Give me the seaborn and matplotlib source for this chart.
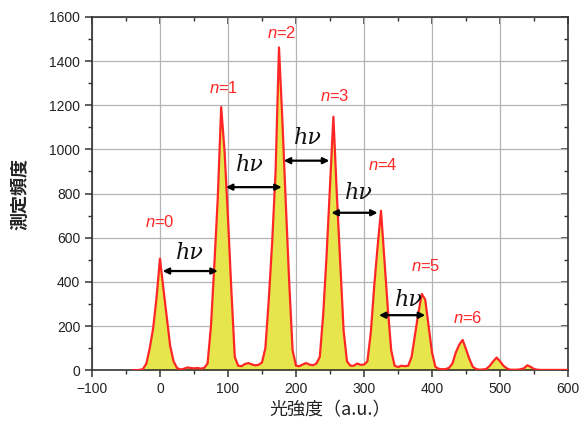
import numpy as np
import pandas as pd
import seaborn as sns
import matplotlib
matplotlib.use("Agg")
import matplotlib.pyplot as plt
from matplotlib.ticker import MultipleLocator

# ---- data ----
x_start, x_stop, x_step = -40, 600, 5
counts = [
    0, 0, 1, 5, 30, 100, 190, 330, 505, 370, 240, 110, 40, 10, 3, 6, 12, 10, 8, 10,
    7, 10, 30, 200, 480, 780, 1192, 990, 690, 360, 60, 20, 18, 28, 32, 26, 22, 24, 35, 100,
    320, 580, 900, 1462, 1130, 757, 400, 90, 20, 18, 26, 32, 25, 22, 30, 60, 250, 520, 830, 1148,
    800, 490, 180, 40, 20, 20, 30, 24, 25, 40, 170, 380, 560, 722, 500, 280, 90, 20, 14, 20,
    18, 20, 60, 160, 260, 345, 320, 200, 80, 15, 6, 4, 5, 10, 30, 80, 115, 137, 95, 50,
    15, 5, 2, 3, 6, 20, 40, 57, 40, 20, 8, 2, 2, 2, 4, 8, 22, 15, 5, 2,
    1, 1, 1, 1, 1, 1, 1, 1, 1,
]
intensity = np.arange(x_start, x_stop + 1, x_step)
assert len(intensity) == len(counts), (len(intensity), len(counts))

n_labels = ["0", "1", "2", "3", "4", "5", "6"]
n_label_x = [0, 93, 179, 257, 328, 391, 452]
n_label_y = [671, 1278, 1528, 1243, 929, 473, 235]

arrow_x0 = [4, 97, 182, 252, 322]
arrow_x1 = [85, 179, 249, 320, 390]
arrow_y = [449, 829, 949, 713, 249]
hv_x = [44, 132, 217, 293, 366]
hv_y = [530, 929, 1050, 802, 317]

df = pd.DataFrame({"intensity": intensity, "count": counts})

# ---- style ----
sns.set_style("white")
plt.rcParams["font.family"] = ["Liberation Sans", "DejaVu Sans"]
plt.rcParams["mathtext.fontset"] = "custom"
plt.rcParams["mathtext.rm"] = "Liberation Sans"
plt.rcParams["mathtext.it"] = "Liberation Sans:italic"

fig = plt.figure(figsize=(5.82, 4.24), dpi=100)
ax = fig.add_axes([0.158, 0.127, 0.818, 0.833])

fill_color = "#e6e64c"
line_color = "#ff2626"
ax.fill_between(df["intensity"], df["count"], 0, color=fill_color, linewidth=0, zorder=2)
sns.lineplot(data=df, x="intensity", y="count", ax=ax, color=line_color, linewidth=1.6, zorder=3)

ax.set_xlim(-100, 600)
ax.set_ylim(0, 1600)
ax.xaxis.set_major_locator(MultipleLocator(100))
ax.xaxis.set_minor_locator(MultipleLocator(50))
ax.yaxis.set_major_locator(MultipleLocator(200))
ax.yaxis.set_minor_locator(MultipleLocator(100))
ax.grid(True, which="major", color="#b4b4b4", linewidth=0.9, zorder=0)
ax.set_axisbelow(True)

for s in ax.spines.values():
    s.set_color("#333333")
    s.set_linewidth(1.2)

ax.tick_params(axis="both", which="major", length=5, width=1.1, color="#333333",
               labelsize=10, labelcolor="#222222")
ax.tick_params(axis="both", which="minor", length=3, width=1.0, color="#333333")
ax.tick_params(axis="x", which="both", direction="out", bottom=True, top=False)
ax.tick_params(axis="y", which="both", direction="out", left=True, right=False)

# top and right inward ticks via secondary axes
top = ax.secondary_xaxis("top")
top.xaxis.set_major_locator(MultipleLocator(100))
top.xaxis.set_minor_locator(MultipleLocator(50))
top.tick_params(which="major", direction="in", length=5, width=1.1, color="#333333", labeltop=False)
top.tick_params(which="minor", direction="in", length=3, width=1.0, color="#333333")
top.set_xticklabels([])
right = ax.secondary_yaxis("right")
right.yaxis.set_major_locator(MultipleLocator(200))
right.yaxis.set_minor_locator(MultipleLocator(100))
right.tick_params(which="major", direction="in", length=5, width=1.1, color="#333333", labelright=False)
right.tick_params(which="minor", direction="in", length=3, width=1.0, color="#333333")
right.set_yticklabels([])
for sec in (top, right):
    for s in sec.spines.values():
        s.set_visible(False)

cjk = ["Noto Sans CJK JP", "DejaVu Sans"]
ax.set_xlabel("光強度（a.u.）", family=cjk, fontsize=13, color="#222222", labelpad=4)
ax.set_ylabel("測定頻度", family=cjk, fontsize=13, fontweight="bold", color="#222222", labelpad=14)

for lab, lx, ly in zip(n_labels, n_label_x, n_label_y):
    ax.text(lx, ly, r"$n$=" + lab, color=line_color, fontsize=12,
            ha="center", va="center", zorder=5)

for x0, x1, ay, hx, hy in zip(arrow_x0, arrow_x1, arrow_y, hv_x, hv_y):
    ax.annotate("", xy=(x1, ay), xytext=(x0, ay),
                arrowprops=dict(arrowstyle="<|-|>", color="black", lw=1.6,
                                mutation_scale=9, shrinkA=0, shrinkB=0), zorder=6)
    ax.text(hx, hy, "hν", fontsize=16, family=["DejaVu Serif"], style="italic",
            ha="center", va="center", color="#111111", zorder=6)

fig.savefig("out.png", dpi=100)
